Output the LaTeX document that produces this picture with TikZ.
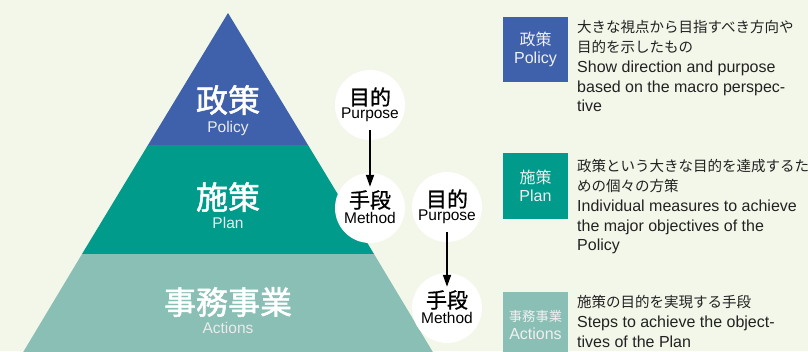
\documentclass[tikz,border=0pt]{standalone}
\usepackage{fontspec}
\setmainfont{Liberation Sans}
\newfontfamily\jp{Noto Sans CJK JP}
\newfontfamily\jpmid{Noto Sans CJK JP}[FakeBold=1.6]
\newfontfamily\jpsemi{Noto Sans CJK JP}[FakeBold=0.8]
\usetikzlibrary{arrows.meta}

\definecolor{paper}{HTML}{F3F7E9}
\definecolor{policyblue}{HTML}{3F61AC}
\definecolor{planteal}{HTML}{009B8B}
\definecolor{actionteal}{HTML}{8ABFB6}
\definecolor{inkgray}{HTML}{222222}

\tikzset{
  bandtitle/.style={text=white, inner sep=0pt, font=\jpmid\fontsize{32}{32}\selectfont},
  bandsub/.style={text=white!92!black, inner sep=0pt, font=\fontsize{15.5}{16}\selectfont},
  bubble/.style={circle, fill=white, minimum size=70pt, inner sep=0pt},
  bubblejp/.style={inner sep=0pt, font=\jpsemi\fontsize{21}{21}\selectfont},
  bubbleen/.style={inner sep=0pt, font=\fontsize{15.5}{16}\selectfont},
  link/.style={-{Triangle[width=8pt,length=12pt]}, line width=1.8pt},
  keybox/.style={minimum width=65pt, minimum height=65pt, inner sep=0pt,
                 align=center, text=white!94!black, font=\fontsize{16}{18}\selectfont},
  desc/.style={anchor=north west, inner sep=0pt, align=left, text=inkgray,
               font=\fontsize{16}{19.7}\selectfont},
}
\newcommand{\jpline}[1]{{\jp\fontsize{14.5}{19.7}\selectfont #1}}

\begin{document}
\begin{tikzpicture}[x=1pt, y=-1pt]
  \useasboundingbox (0,0) rectangle (808,351);
  \clip (0,0) rectangle (808,351);
  \fill[paper] (0,0) rectangle (808,351);

  % pyramid bands
  \fill[policyblue] (228,13) -- (308,145) -- (148,145) -- cycle;
  \fill[planteal] (148,145) -- (308,145) -- (374,254) -- (82,254) -- cycle;
  \fill[actionteal] (82,254) -- (374,254) -- (434,354) -- (22,354) -- cycle;

  \node[bandtitle] (t1) at (228,100) {政策};
  \node[bandsub]   (s1) at (228,128) {Policy};
  \node[bandtitle] (t2) at (228,197) {施策};
  \node[bandsub]   (s2) at (228,223) {Plan};
  \node[bandtitle] (t3) at (228,302) {事務事業};
  \node[bandsub]   (s3) at (228,328) {Actions};

  % purpose / method bubbles
  \node[bubble] (pu1) at (370,105) {};
  \node[bubble] (me1) at (370,208) {};
  \node[bubble] (pu2) at (447,207) {};
  \node[bubble] (me2) at (447,308) {};

  \foreach \b in {pu1,pu2}{
    \node[bubblejp] at ([yshift=8pt]\b.center) {目的};
    \node[bubbleen] at ([yshift=-10pt]\b.center) {Purpose};
  }
  \foreach \b in {me1,me2}{
    \node[bubblejp] at ([yshift=8pt]\b.center) {手段};
    \node[bubbleen] at ([yshift=-10pt]\b.center) {Method};
  }

  \draw[link] ([yshift=10pt]pu1.south) -- ([yshift=-14pt]me1.north);
  \draw[link] ([yshift=10pt]pu2.south) -- ([yshift=-14pt]me2.north);

  % legend
  \node[keybox, fill=policyblue] (k1) at (535.5,49.5) {{\jp 政策}\\Policy};
  \node[keybox, fill=planteal, minimum height=66pt] (k2) at (535.5,186) {{\jp 施策}\\Plan};
  \node[keybox, fill=actionteal] (k3) at (535.5,324.5)
    {{\jp\fontsize{13.3}{18}\selectfont 事務事業}\\Actions};

  \node[desc] (d1) at (577,20.5) {\jpline{大きな視点から目指すべき方向や}\\
    \jpline{目的を示したもの}\\Show direction and purpose\\
    based on the macro perspec-\\tive};
  \node[desc] (d2) at (577,159.5) {\jpline{政策という大きな目的を達成するた}\\
    \jpline{めの個々の方策}\\Individual measures to achieve\\
    the major objectives of the\\Policy};
  \node[desc] (d3) at (577,295.5) {\jpline{施策の目的を実現する手段}\\
    Steps to achieve the object-\\tives of the Plan};
\end{tikzpicture}
\end{document}
